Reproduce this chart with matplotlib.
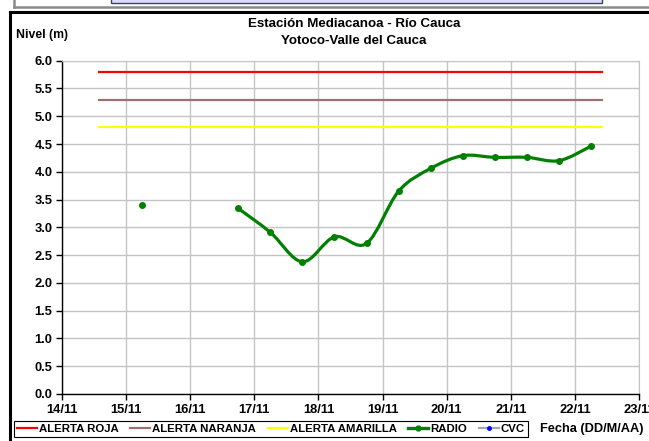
import numpy as np
import matplotlib
matplotlib.use("Agg")
import matplotlib.pyplot as plt
from matplotlib.path import Path
from matplotlib.patches import PathPatch, Rectangle
from matplotlib.lines import Line2D

plt.rcParams['font.family'] = ['Liberation Sans', 'DejaVu Sans']

# ---- data ----
day_ticks = [14, 15, 16, 17, 18, 19, 20, 21, 22, 23]
day_labels = ["14/11", "15/11", "16/11", "17/11", "18/11", "19/11", "20/11", "21/11", "22/11", "23/11"]
alert_x = [14.58, 22.43]
alerta_roja = [5.8, 5.8]
alerta_naranja = [5.3, 5.3]
alerta_amarilla = [4.8, 4.8]
radio_x = [15.25, 15.75, 16.25, 16.75, 17.25, 17.75, 18.25, 18.75, 19.25, 19.75,
           20.25, 20.75, 21.25, 21.75, 22.25]
radio_y = [3.40, np.nan, np.nan, 3.34, 2.91, 2.38, 2.83, 2.71, 3.65, 4.06,
           4.29, 4.26, 4.26, 4.20, 4.46]
cvc_x = []
cvc_y = []

W, H = 649, 441
fig = plt.figure(figsize=(W / 100, H / 100), dpi=100)

def fx(px):
    return px / W

def fy(py):
    return 1 - py / H

ax = fig.add_axes([fx(62), fy(394), fx(639) - fx(62), fy(60.7) - fy(394)])
ax.set_xlim(14, 23)
ax.set_ylim(0, 6)
ax.set_xticks(day_ticks)
ax.set_xticklabels(day_labels)
ax.set_yticks(np.arange(0, 6.01, 0.5))
ax.set_yticklabels([f"{v:.1f}" for v in np.arange(0, 6.01, 0.5)])
ax.grid(True, color='#c4c4c4', lw=1.0)
ax.set_axisbelow(True)
for s in ['top', 'right']:
    ax.spines[s].set_color('#c4c4c4')
for s in ['left', 'bottom']:
    ax.spines[s].set_color('black')
    ax.spines[s].set_linewidth(1.0)
ax.tick_params(direction='out', length=4, width=1, labelsize=9.3, pad=3)
for lab in ax.get_xticklabels() + ax.get_yticklabels():
    lab.set_fontweight('bold')
for lab in ax.get_xticklabels():
    lab.set_clip_on(False)

lr, = ax.plot(alert_x, alerta_roja, color='#ff0000', lw=1.6, label='ALERTA ROJA')
ln, = ax.plot(alert_x, alerta_naranja, color='#a07070', lw=1.6, label='ALERTA NARANJA')
la, = ax.plot(alert_x, alerta_amarilla, color='#ffff00', lw=1.6, label='ALERTA AMARILLA')

# smoothed radio line (Excel-like Bezier smoothing) over contiguous segments
green = '#008000'
xs = np.array(radio_x)
ys = np.array(radio_y)
segs = []
cur = []
for xv, yv in zip(xs, ys):
    if np.isnan(yv):
        if cur:
            segs.append(cur)
        cur = []
    else:
        cur.append((xv, yv))
if cur:
    segs.append(cur)
for seg in segs:
    if len(seg) < 2:
        continue
    P = np.array(seg)
    verts = [P[0]]
    codes = [Path.MOVETO]
    n = len(P)
    for i in range(n - 1):
        p0 = P[i - 1] if i > 0 else P[i]
        p1 = P[i]
        p2 = P[i + 1]
        p3 = P[i + 2] if i + 2 < n else P[i + 1]
        c1 = p1 + (p2 - p0) / 6.0
        c2 = p2 - (p3 - p1) / 6.0
        verts += [c1, c2, p2]
        codes += [Path.CURVE4] * 3
    ax.add_patch(PathPatch(Path(verts, codes), fill=False, edgecolor=green, lw=2.3,
                           capstyle='round', joinstyle='round'))
ax.plot(xs, ys, linestyle='none', marker='o', ms=4.0, color=green)

radio_handle = Line2D([], [], color=green, lw=2.4, marker='o', ms=3.5, label='RADIO')
cvc_line, = ax.plot(cvc_x, cvc_y, color='#a8a8a8', lw=1.6, marker='o', ms=2.5,
                    mfc='#0000ff', mec='#0000ff', label='CVC')

leg = fig.legend(handles=[lr, ln, la, radio_handle, cvc_line],
                 loc='center left', bbox_to_anchor=(fx(14), fy(429)), ncol=5,
                 prop={'weight': 'bold', 'size': 8.2},
                 frameon=True, fancybox=False, edgecolor='black', framealpha=1,
                 handlelength=1.75, handletextpad=0.2, columnspacing=1.0,
                 borderpad=0.25, borderaxespad=0)
leg.get_frame().set_linewidth(0.8)

# titles and axis labels
fig.text(fx(354), fy(24), 'Estación Mediacanoa - Río Cauca', ha='center', va='center',
         fontsize=9.6, fontweight='bold')
fig.text(fx(354), fy(41), 'Yotoco-Valle del Cauca', ha='center', va='center',
         fontsize=9.6, fontweight='bold')
fig.text(fx(16), fy(35), 'Nivel (m)', ha='left', va='center', fontsize=8.8, fontweight='bold')
fig.text(fx(540), fy(429), 'Fecha (DD/M/AA)', ha='left', va='center', fontsize=9.2,
         fontweight='bold')

# frame remnants
fig.add_artist(Line2D([fx(10), fx(10)], [fy(12), fy(441)], color='black', lw=2.2,
                      transform=fig.transFigure))
fig.add_artist(Line2D([fx(10), fx(649)], [fy(12), fy(12)], color='black', lw=2.2,
                      transform=fig.transFigure))
fig.add_artist(Line2D([fx(14), fx(14)], [fy(0), fy(6.5)], color='#8a8a8a', lw=1.8,
                      transform=fig.transFigure))
fig.add_artist(Line2D([fx(14), fx(649)], [fy(6.5), fy(6.5)], color='#8a8a8a', lw=1.8,
                      transform=fig.transFigure))
fig.add_artist(Rectangle((fx(111), fy(3)), fx(602) - fx(111), fy(-2) - fy(3),
                         facecolor='#dcdcff', edgecolor='#404060', lw=1,
                         transform=fig.transFigure))

fig.savefig('out.png', dpi=100)
